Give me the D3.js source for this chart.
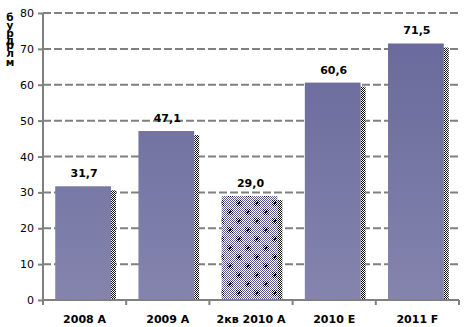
<!DOCTYPE html>
<html><head><meta charset="utf-8">
<script src="https://cdn.jsdelivr.net/npm/d3@7"></script>
<style>html,body{margin:0;padding:0;background:#fff;}svg{display:block;}</style>
</head><body><svg id="c" width="470" height="327"></svg>
<script>
const categories = ["2008 A", "2009 A", "2кв 2010 A", "2010 E", "2011 F"];
const values = [31.7, 47.1, 29.0, 60.6, 71.5];
const labels = ["31,7", "47,1", "29,0", "60,6", "71,5"];
const yTicks = [0, 10, 20, 30, 40, 50, 60, 70, 80];
const patterned = [false, false, true, false, false];
const unitLetters = ["б", "у", "р", "д", "р", "л", "м"];

const svg = d3.select("#c");
const font = "'DejaVu Sans', Verdana, sans-serif";
const x = d3.scaleBand().domain(categories).range([43, 459]).paddingInner(0.33).paddingOuter(0.165);
const y = d3.scaleLinear().domain([0, 80]).range([300, 13]);

const defs = svg.append("defs");
const grad = defs.append("linearGradient").attr("id", "g").attr("x1", 0).attr("x2", 0)
  .attr("gradientUnits", "userSpaceOnUse").attr("y1", y(80)).attr("y2", y(0));
grad.append("stop").attr("offset", 0).attr("stop-color", "#67679a");
grad.append("stop").attr("offset", 1).attr("stop-color", "#8484ae");

function checker(id, a, b) {
  const p = defs.append("pattern").attr("id", id).attr("width", 2).attr("height", 2).attr("patternUnits", "userSpaceOnUse");
  p.append("rect").attr("width", 2).attr("height", 2).attr("fill", b);
  p.append("rect").attr("width", 1).attr("height", 1).attr("fill", a);
  p.append("rect").attr("x", 1).attr("y", 1).attr("width", 1).attr("height", 1).attr("fill", a);
}
checker("dots", "#111", "#fff");
checker("chk", "#5a5a96", "#fff");
checker("dark", "#0c0c30", "#ffffff");

const tile = defs.append("pattern").attr("id", "tile").attr("width", 18).attr("height", 18).attr("patternUnits", "userSpaceOnUse");
tile.append("rect").attr("width", 18).attr("height", 18).attr("fill", "url(#chk)");
[[2, 2], [11, 11]].forEach(([bx, by]) => {
  tile.append("rect").attr("x", bx).attr("y", by).attr("width", 6).attr("height", 6).attr("fill", "url(#dark)");
  tile.append("rect").attr("x", bx + 2).attr("y", by + 2).attr("width", 2).attr("height", 2).attr("fill", "#0c0c30");
});

// gridlines
svg.append("g").selectAll("line").data(yTicks.filter(d => d > 0)).join("line")
  .attr("x1", 43).attr("x2", 459).attr("y1", d => y(d)).attr("y2", d => y(d))
  .attr("stroke", "#808080").attr("stroke-width", 2).attr("stroke-dasharray", "8,3");

// bars
const off = -1.5;
const g = svg.append("g");
categories.forEach((c, i) => {
  const bx = x(c) + off, bw = x.bandwidth(), top = y(values[i]);
  g.append("rect").attr("x", bx + bw).attr("y", top + 4).attr("width", 5).attr("height", y(0) - top - 4).attr("fill", "url(#dots)");
  g.append("rect").attr("x", bx).attr("y", top).attr("width", bw).attr("height", y(0) - top)
    .attr("fill", patterned[i] ? "url(#tile)" : "url(#g)");
  g.append("text").attr("x", bx + bw / 2 + 1).attr("y", top - 9).attr("text-anchor", "middle")
    .attr("font-family", font).attr("font-weight", "bold").attr("font-size", 11).attr("fill", "#000")
    .text(labels[i]);
});

// axes
const yAxis = d3.axisLeft(y).tickValues(yTicks).tickSize(5).tickPadding(4);
const ya = svg.append("g").attr("transform", "translate(43,0)").call(yAxis);
ya.select(".domain").attr("stroke", "#808080").attr("stroke-width", 2).attr("d", `M0,${y(0) + 5}V${y(80)}`);
ya.selectAll(".tick line").attr("stroke", "#808080").attr("stroke-width", 2);
ya.selectAll(".tick text").attr("font-family", font).attr("font-size", 11).attr("fill", "#000");

const xAxis = d3.axisBottom(x).tickSize(0).tickPadding(15);
const xa = svg.append("g").attr("transform", `translate(0,${y(0)})`).call(xAxis);
xa.select(".domain").attr("stroke", "#808080").attr("stroke-width", 2).attr("d", "M43,0H459");
xa.selectAll(".tick text").attr("font-family", font).attr("font-weight", "bold").attr("font-size", 11).attr("fill", "#000");
const bounds = categories.map((c, i) => 43 + x.step() * (i + 1) * (416 / (x.step() * categories.length)));
xa.append("g").selectAll("line").data(bounds).join("line")
  .attr("x1", d => d).attr("x2", d => d).attr("y1", 0).attr("y2", 5).attr("stroke", "#808080").attr("stroke-width", 2);

// unit label
const ub = [21, 29, 37, 44, 49, 57, 66];
svg.append("g").selectAll("text").data(unitLetters).join("text")
  .attr("x", 10).attr("y", (d, i) => ub[i]).attr("text-anchor", "middle")
  .attr("font-family", font).attr("font-weight", "bold").attr("font-size", 10.5).attr("fill", "#000")
  .text(d => d);
</script></body></html>
